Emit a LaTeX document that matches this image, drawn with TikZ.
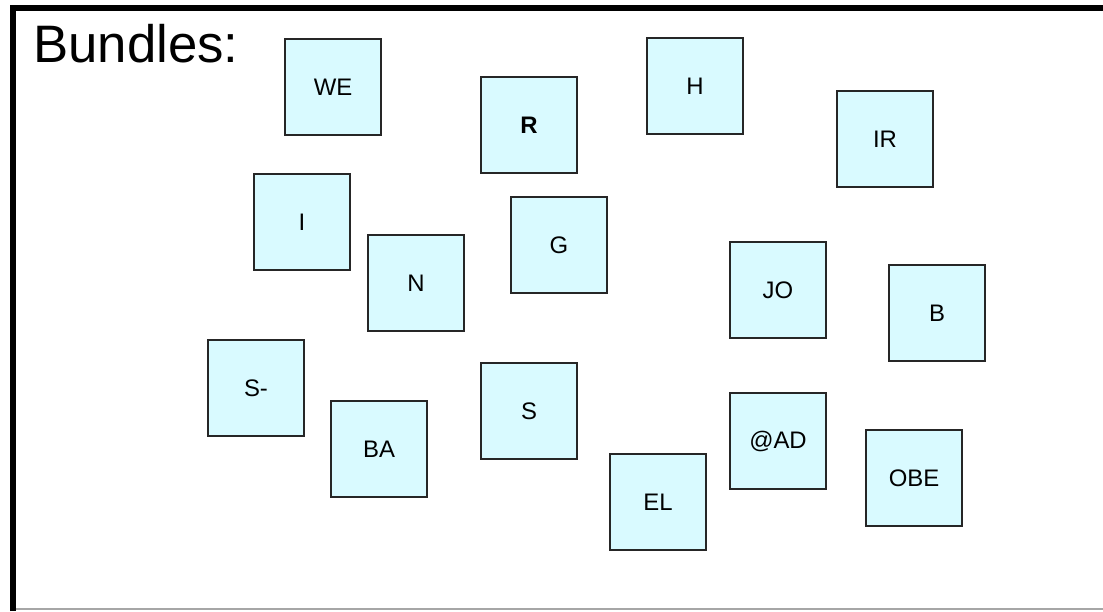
\documentclass[tikz,border=0pt]{standalone}
\usepackage{fontspec}
\setmainfont{Liberation Sans}
\usepackage{tikz}

\definecolor{bundlefill}{RGB}{217,250,255}

\begin{document}
\begin{tikzpicture}[x=0.025cm, y=-0.025cm,
    bundle/.style={rectangle, draw=black!85, line width=1.7pt, fill=bundlefill,
        minimum size=2.4cm, inner sep=0pt, font=\fontsize{17}{20}\selectfont}]

        \useasboundingbox (0,0) rectangle (1103,611);

        % frame
        \draw[gray!70, line width=0.8pt] (13,609) -- (1103,609);
        \draw[line width=4.3pt] (13,611) -- (13,8) -- (1103,8);

        \node[anchor=base west, inner sep=0pt, font=\fontsize{37.5}{42}\selectfont]
            (title) at (33,63) {Bundles:};

        \node[bundle]         (we)  at (333, 87)            {WE};
        \node[bundle]         (r)   at (529,125)            {\textbf{R}};
        \node[bundle]         (h)   at (695, 86)            {H};
        \node[bundle]         (ir)  at (885,139)            {IR};
        \node[bundle]         (i)   at (302,222)            {I};
        \node[bundle]         (g)   at (559,245)            {G};
        \node[bundle]         (n)   at (416,283)            {N};
        \node[bundle]         (jo)  at (778,290)            {JO};
        \node[bundle]         (b)   at (937,313)            {B};
        \node[bundle]         (sm)  at (256,388)            {S-};
        \node[bundle]         (s)   at (529,411)            {S};
        \node[bundle]         (ba)  at (379,449)            {BA};
        \node[bundle]         (ad)  at (778,441)            {@AD};
        \node[bundle]         (el)  at (658,502)            {EL};
        \node[bundle]         (obe) at (914,478)            {OBE};
      \end{tikzpicture}
\end{document}
